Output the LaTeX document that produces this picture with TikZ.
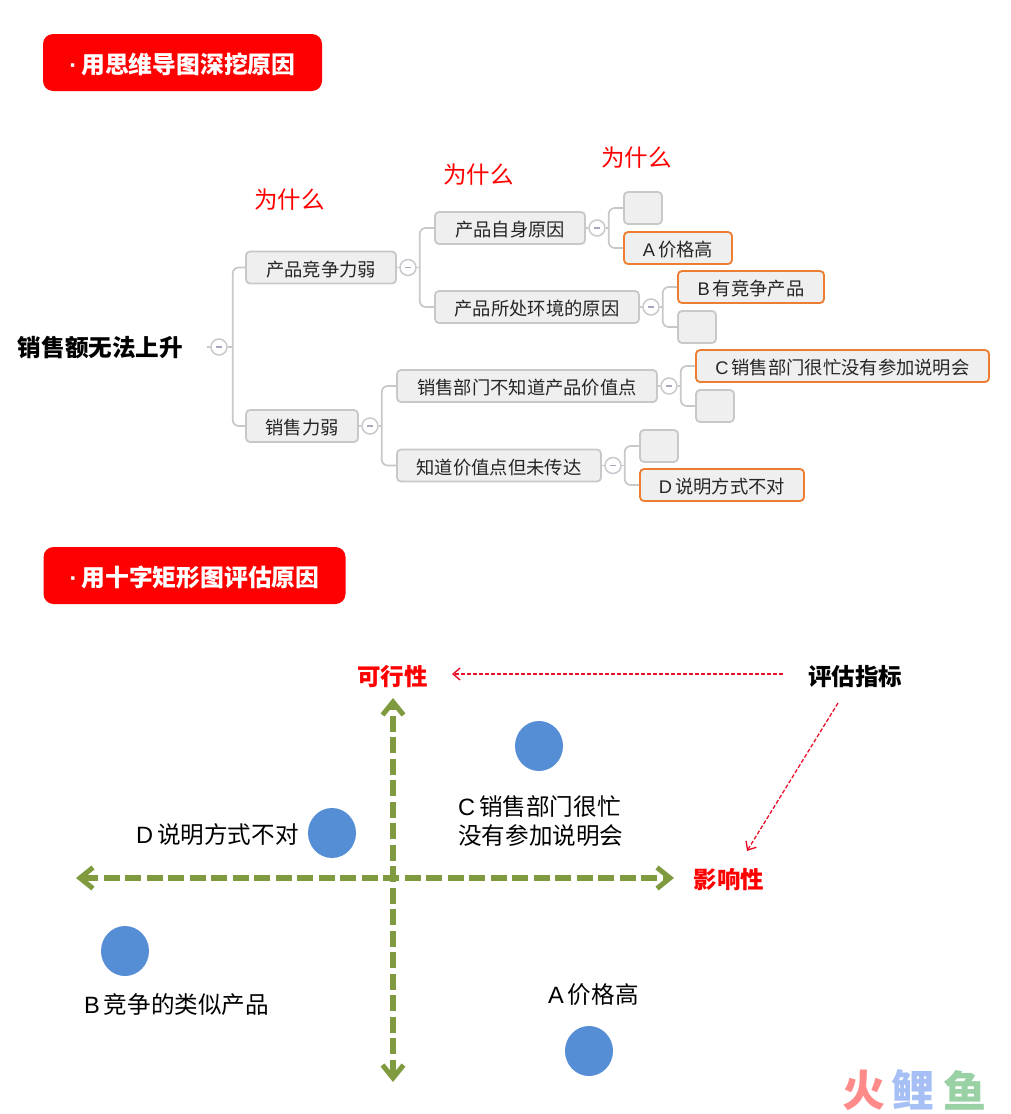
\documentclass[tikz,border=0pt]{standalone}
\usepackage{fontspec}
\usetikzlibrary{arrows.meta,shapes.geometric}
\setmainfont{Noto Sans CJK SC}
\newfontfamily\lat{Liberation Sans}
\newcommand{\fs}[1]{\fontsize{#1}{#1}\selectfont}
\definecolor{boxfill}{HTML}{EFEFEF}
\definecolor{boxline}{HTML}{C8C8C8}
\definecolor{hilite}{HTML}{ED7D31}
\definecolor{btnline}{HTML}{C9C9CF}
\definecolor{btnminus}{HTML}{A8A8BC}
\definecolor{axisgreen}{HTML}{7F9A3F}
\definecolor{notered}{HTML}{E8102A}
\definecolor{dotblue}{HTML}{558ED5}
\tikzset{
  x=1pt,y=-1pt,
  banner/.style={fill=red,rounded corners=10pt,minimum height=57pt,inner sep=0pt,text=white,font=\fs{23.8}\bfseries,text height=22pt,text depth=0pt},
  mapbox/.style={draw=boxline,fill=boxfill,line width=1.8pt,rounded corners=4pt,minimum height=32pt,inner sep=0pt,text=black!85,font=\fs{18.3},text height=18pt,text depth=0.4pt},
  hibox/.style={mapbox,draw=hilite},
  btn/.style={circle,draw=btnline,fill=white,line width=1.5pt,minimum size=16pt,inner sep=0pt},
  minusbar/.style={draw=btnminus,line width=1.4pt},
  conn/.style={draw=boxline,line width=1.7pt,rounded corners=6pt},
  why/.style={text=red,font=\fs{23.5}},
  axislab/.style={text=red,font=\fs{23.5}\bfseries},
  tag/.style={text=black,font=\fs{23.6},inner sep=0pt},
  dot/.style={ellipse,fill=dotblue,minimum width=48pt,minimum height=50pt,inner sep=0pt},
  axis/.style={draw=axisgreen,line width=6pt,dash pattern=on 16pt off 5.5pt,{Straight Barb[length=13pt,width=21pt,line width=5pt]}-{Straight Barb[length=13pt,width=21pt,line width=5pt]}},
  note/.style={draw=notered,line width=1.3pt,dash pattern=on 4pt off 2pt,-{Straight Barb[length=7pt,width=12pt,line width=1.4pt]}},
}
\newcommand{\btnat}[3]{\node[btn] (#1) at (#2,#3) {};\draw[minusbar] ([xshift=-3pt]#1.center) -- ([xshift=3pt]#1.center);}
\begin{document}
\begin{tikzpicture}
\useasboundingbox (0,0) rectangle (1010,1114);
% banners
\node[banner,minimum width=279pt] (t1) at (182.5,62.5) {{\lat\bfseries ·}\hspace{4pt}用思维导图深挖原因};
\node[banner,minimum width=302pt] (t2) at (194.5,575.5) {{\lat\bfseries ·}\hspace{4pt}用十字矩形图评估原因};
% why labels
\node[why] (w1) at (289.5,200) {为什么};
\node[why] (w2) at (478.5,175) {为什么};
\node[why] (w3) at (636.5,158) {为什么};
% root
\node[font=\fs{23.6}\bfseries,text=black,inner sep=0pt] (root) at (100.5,348) {销售额无法上升};
% level 1
\node[mapbox,minimum width=150pt] (n1) at (321,267.5) {产品竞争力弱};
\node[mapbox,minimum width=112pt] (n2) at (302,426) {销售力弱};
% level 2
\node[mapbox,minimum width=150pt] (n11) at (510,228) {产品自身原因};
\node[mapbox,minimum width=204pt] (n12) at (537,307) {产品所处环境的原因};
\node[mapbox,minimum width=260pt] (n21) at (527,386) {销售部门不知道产品价值点};
\node[mapbox,minimum width=204pt] (n22) at (499,465.5) {知道价值点但未传达};
% level 3
\node[mapbox,minimum width=38pt] (e1) at (643,208) {};
\node[hibox,minimum width=108pt] (a) at (678,248) {{\lat A}\,价格高};
\node[hibox,minimum width=146pt] (b) at (751,287) {{\lat B}\,有竞争产品};
\node[mapbox,minimum width=38pt] (e2) at (697,327) {};
\node[hibox,minimum width=293pt] (c) at (842.5,366) {{\lat C}\,销售部门很忙没有参加说明会};
\node[mapbox,minimum width=38pt] (e3) at (715,406) {};
\node[mapbox,minimum width=38pt] (e4) at (659,446) {};
\node[hibox,minimum width=164pt] (d) at (722,485) {{\lat D}\,说明方式不对};
% collapse buttons
\btnat{b0}{219}{347}
\btnat{b1}{408}{267.5}
\btnat{b2}{370}{426}
\btnat{b11}{597}{228}
\btnat{b12}{651}{307}
\btnat{b21}{669}{386}
\btnat{b22}{613}{465.5}
% connectors
\draw[conn] (b0.west) -- ++(-3,0);
\draw[conn] (b0.east) -- ++(5,0);
\draw[conn] (b0.east) ++(5,0) |- (n1.west);
\draw[conn] (b0.east) ++(5,0) |- (n2.west);
\draw[conn] (n1.east) -- (b1.west);
\draw[conn] (n2.east) -- (b2.west);
\draw[conn] (b1.east) -- ++(3,0);
\draw[conn] (b2.east) -- ++(3,0);
\draw[conn] (b1.east) ++(3,0) |- (n11.west);
\draw[conn] (b1.east) ++(3,0) |- (n12.west);
\draw[conn] (b2.east) ++(3,0) |- (n21.west);
\draw[conn] (b2.east) ++(3,0) |- (n22.west);
\draw[conn] (n11.east) -- (b11.west);
\draw[conn] (n12.east) -- (b12.west);
\draw[conn] (n21.east) -- (b21.west);
\draw[conn] (n22.east) -- (b22.west);
\draw[conn] (b11.east) -- ++(3,0);
\draw[conn] (b12.east) -- ++(3,0);
\draw[conn] (b21.east) -- ++(3,0);
\draw[conn] (b22.east) -- ++(3,0);
\draw[conn] (b11.east) ++(3,0) |- (e1.west);
\draw[conn] (b11.east) ++(3,0) |- (a.west);
\draw[conn] (b12.east) ++(3,0) |- (b.west);
\draw[conn] (b12.east) ++(3,0) |- (e2.west);
\draw[conn] (b21.east) ++(3,0) |- (c.west);
\draw[conn] (b21.east) ++(3,0) |- (e3.west);
\draw[conn] (b22.east) ++(3,0) |- (e4.west);
\draw[conn] (b22.east) ++(3,0) |- (d.west);
% axes
\coordinate (xl) at (76,878);
\coordinate (xr) at (674,878);
\coordinate (yt) at (393,698);
\coordinate (yb) at (393,1082);
\draw[axis] (xl) -- (xr);
\draw[axis] (yb) -- (yt);
% axis labels
\node[axislab] (ly) at (392.5,677) {可行性};
\node[axislab] (lx) at (729,880) {影响性};
\node[font=\fs{23.5}\bfseries,text=black] (idx) at (855,677) {评估指标};
\coordinate (n1s) at (783,674);
\coordinate (n1e) at (452,674);
\coordinate (n2s) at (838,703);
\coordinate (n2e) at (747,851);
\draw[note] (n1s) -- (n1e);
\draw[note] (n2s) -- (n2e);
% dots and tags
\node[dot] (dc) at (539,746) {};
\node[dot] (dd) at (332,833) {};
\node[dot] (db) at (125,951) {};
\node[dot] (da) at (589,1051) {};
\node[tag,align=left,anchor=west,font=\fontsize{23.6}{29}\selectfont] (tc) at (458,821) {{\lat C}\,销售部门很忙\\没有参加说明会};
\node[tag,anchor=west] (td) at (136,835) {{\lat D}\,说明方式不对};
\node[tag,anchor=west] (tb) at (84,1005) {{\lat B}\,竞争的类似产品};
\node[tag,anchor=west] (ta) at (548,995) {{\lat A}\,价格高};
% watermark
\node[font=\fs{43}\bfseries,text={rgb,255:red,255;green,138;blue,138},inner sep=0pt] (m1) at (864,1090) {火};
\node[font=\fs{43}\bfseries,text={rgb,255:red,166;green,192;blue,245},inner sep=0pt] (m2) at (913,1090) {鲤};
\node[font=\fs{43}\bfseries,text={rgb,255:red,154;green,209;blue,164},inner sep=0pt] (m3) at (965,1090) {鱼};
\end{tikzpicture}
\end{document}
